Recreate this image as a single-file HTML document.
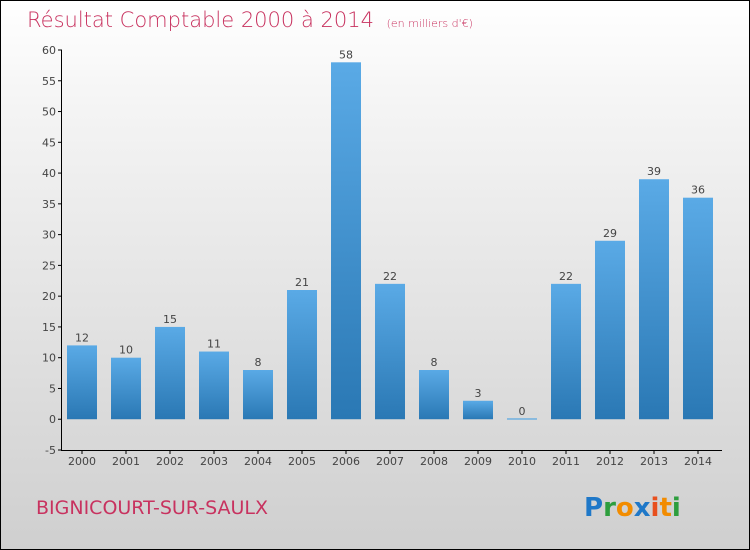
<!DOCTYPE html>
<html><head><meta charset="utf-8"><style>
body{margin:0}
#c{position:relative;width:748px;height:548px;border:1px solid #000;background:linear-gradient(#ffffff,#f4f4f4 20%,#cfcfcf);font-family:"DejaVu Sans","Liberation Sans",sans-serif;overflow:hidden}
svg text{font-family:"DejaVu Sans","Liberation Sans",sans-serif}
</style></head><body>
<div id="c">
<svg id="s" width="748" height="548" xmlns="http://www.w3.org/2000/svg">
<defs><linearGradient id="g" x1="0" y1="0" x2="0" y2="1"><stop offset="0" stop-color="#5aaae6"/><stop offset="1" stop-color="#2a78b4"/></linearGradient></defs>
<text x="26" y="26" font-size="21" fill="#c8325f" style="font-weight:300">Résultat Comptable 2000 à 2014 <tspan font-size="11" dx="6">(en milliers d'€)</tspan></text>
<g id="axes"></g><g id="bars"></g>
<text x="35" y="513" font-size="19" fill="#c8325f">BIGNICOURT-SUR-SAULX</text>
<text x="583" y="515" font-size="26" font-weight="bold"><tspan fill="#1f78c8">P</tspan><tspan fill="#2e9e3e">r</tspan><tspan fill="#f28c00">o</tspan><tspan fill="#1f78c8">x</tspan><tspan fill="#e8501e">i</tspan><tspan fill="#f28c00">t</tspan><tspan fill="#2e9e3e">i</tspan></text>
</svg></div>
<script>
const years=["2000","2001","2002","2003","2004","2005","2006","2007","2008","2009","2010","2011","2012","2013","2014"];
const values=[12,10,15,11,8,21,58,22,8,3,0,22,29,39,36];
const yTicks=[-5,0,5,10,15,20,25,30,35,40,45,50,55,60];
const NS="http://www.w3.org/2000/svg";
const y=v=>49+(60-v)*400/65;
const x=i=>81+i*44;
function mk(t,a,p){const e=document.createElementNS(NS,t);for(const k in a)e.setAttribute(k,a[k]);p.appendChild(e);return e;}
const ax=document.getElementById('axes'),bs=document.getElementById('bars');
let l=mk('line',{x1:60.5,y1:y(60),x2:60.5,y2:y(-5),stroke:'#000'},ax);


l=mk('line',{x1:60,y1:y(-5)+.5,x2:721,y2:y(-5)+.5,stroke:'#000'},ax);


yTicks.forEach(v=>{
 mk('line',{x1:57,y1:y(v),x2:61,y2:y(v),stroke:'#000'},ax);
 const t=mk('text',{x:55,y:y(v)+4,'font-size':11,fill:'#444','text-anchor':'end'},ax);t.textContent=v;
 
 
});
years.forEach((yr,i)=>{
 mk('line',{x1:x(i),y1:y(-5),x2:x(i),y2:y(-5)+4,stroke:'#000'},ax);
 const t=mk('text',{x:x(i),y:y(-5)+15,'font-size':11,fill:'#444','text-anchor':'middle'},ax);t.textContent=yr;
 
 
 const v=values[i],top=y(Math.max(v,0)),h=Math.max(Math.abs(y(v)-y(0)),1.5);
 const r=mk('rect',{x:x(i)-15,y:v>=0?top-(v==0?1:0):y(0),width:30,height:h,fill:v==0?'#6fb0e0':'url(#g)'},bs);
 
 
 const lb=mk('text',{x:x(i),y:top-4,'font-size':11,fill:'#444','text-anchor':'middle'},bs);lb.textContent=v;
 
 
});
</script>
</body></html>
